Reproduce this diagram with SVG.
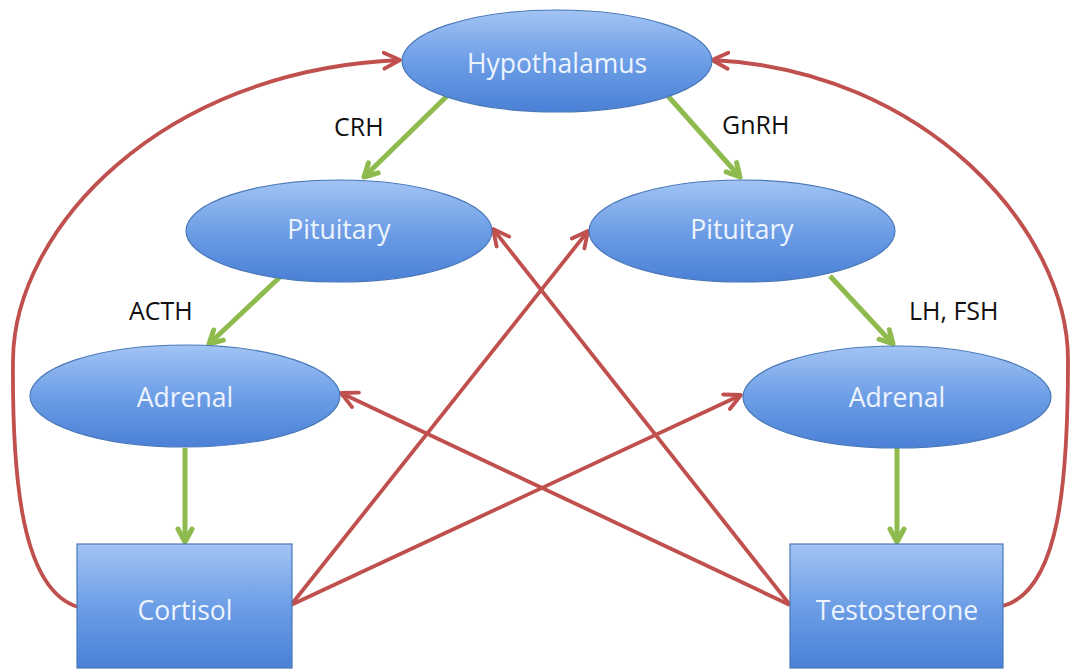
<svg xmlns="http://www.w3.org/2000/svg" width="1073" height="669" viewBox="0 0 1073 669">
<style>
.node{stroke:#4a78b8;stroke-width:1.2}
.ntext{font-family:"Open Sans","Liberation Sans",sans-serif;font-size:26.5px;fill:#eef4ff;text-anchor:middle}
.lbl{font-family:"Open Sans","Liberation Sans",sans-serif;font-size:25px;fill:#111}
.red{stroke:#c0504d;stroke-width:3.8;fill:none;marker-end:url(#ar)}
.grn{stroke:#8fbb4e;stroke-width:5;fill:none;marker-end:url(#ag)}
</style>
<defs>
<linearGradient id="gb" x1="0" y1="0" x2="0" y2="1">
<stop offset="0" stop-color="#a2c4f4"/>
<stop offset="0.5" stop-color="#6d9ee6"/>
<stop offset="1" stop-color="#4a80d6"/>
</linearGradient>
<marker id="ar" viewBox="0 0 20 20" refX="18" refY="10" markerWidth="20" markerHeight="20" markerUnits="userSpaceOnUse" orient="auto">
<path d="M2,2 L18,10 L2,18" fill="none" stroke="#c0504d" stroke-width="3.8" stroke-linecap="round" stroke-linejoin="round"/>
</marker>
<marker id="ag" viewBox="0 0 20 20" refX="17" refY="10" markerWidth="20" markerHeight="20" markerUnits="userSpaceOnUse" orient="auto">
<path d="M4,3 L17,10 L4,17" fill="none" stroke="#8fbb4e" stroke-width="5" stroke-linecap="round" stroke-linejoin="round"/>
</marker>
</defs>
<rect width="1073" height="669" fill="#fff"/>
<g id="connectors">
<path class="grn" d="M447,96 L364,177"/>
<path class="grn" d="M668,96 L740,177"/>
<path class="grn" d="M280,277 L209,344"/>
<path class="grn" d="M830,276 L893,344"/>
<path class="grn" d="M185,448 L185,542"/>
<path class="grn" d="M897,448 L897,542"/>
<path class="red" d="M78,607 C 22,590 12,480 13,360 C 14,230 160,70 400,60"/>
<path class="red" d="M1003,606 C 1060,590 1068,480 1068,360 C 1068,230 925,70 712,60"/>
<path class="red" d="M291,605 L588,231"/>
<path class="red" d="M291,605 L741,395"/>
<path class="red" d="M790,605 L493,229"/>
<path class="red" d="M790,605 L341,393"/>
</g>
<g id="hypothalamus"><ellipse class="node" cx="557" cy="61" rx="155" ry="51" fill="url(#gb)"/><text class="ntext" x="557" y="73">Hypothalamus</text></g>
<g id="pituitary-left"><ellipse class="node" cx="339" cy="231" rx="153" ry="51" fill="url(#gb)"/><text class="ntext" x="339" y="239">Pituitary</text></g>
<g id="pituitary-right"><ellipse class="node" cx="742" cy="231" rx="153" ry="51" fill="url(#gb)"/><text class="ntext" x="742" y="239">Pituitary</text></g>
<g id="adrenal-left"><ellipse class="node" cx="185" cy="396" rx="155" ry="51" fill="url(#gb)"/><text class="ntext" x="185" y="407">Adrenal</text></g>
<g id="adrenal-right"><ellipse class="node" cx="897" cy="397" rx="154" ry="51" fill="url(#gb)"/><text class="ntext" x="897" y="407">Adrenal</text></g>
<g id="cortisol"><rect class="node" x="77" y="544" width="215" height="124" fill="url(#gb)"/><text class="ntext" x="185" y="620">Cortisol</text></g>
<g id="testosterone"><rect class="node" x="790" y="544" width="213" height="124" fill="url(#gb)"/><text class="ntext" x="897" y="620">Testosterone</text></g>
<g id="labels">
<text class="lbl" x="334" y="136">CRH</text>
<text class="lbl" x="722" y="134">GnRH</text>
<text class="lbl" x="129" y="320">ACTH</text>
<text class="lbl" x="909" y="320">LH, FSH</text>
</g>
</svg>
